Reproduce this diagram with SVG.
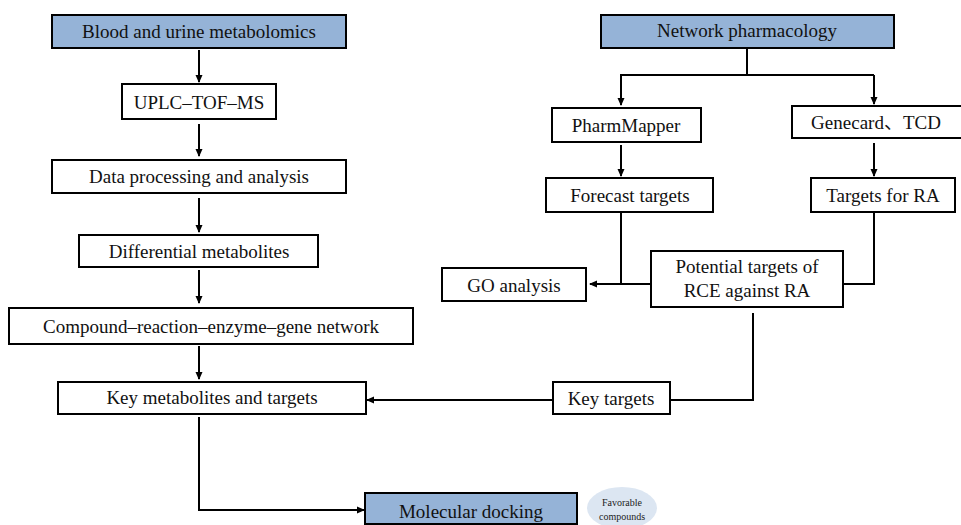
<svg xmlns="http://www.w3.org/2000/svg" width="961" height="525" viewBox="0 0 961 525">
<style>
.box{fill:#ffffff;stroke:#000000;stroke-width:2}
.hbox{fill:#95b3d7;stroke:#000000;stroke-width:2}
.t{font-size:19px;fill:#111111;text-anchor:middle}
.c{fill:none;stroke:#000000;stroke-width:2}
.s{font-size:10px;fill:#222222;text-anchor:middle}
</style>
<defs>
<marker id="ah" markerWidth="8" markerHeight="8" refX="7" refY="4" orient="auto" markerUnits="userSpaceOnUse">
<path d="M0,0.5 L8,4 L0,7.5 Z" fill="#000000"/>
</marker>
</defs>
<rect width="961" height="525" fill="#ffffff"/>
<g id="connectors">
<line class="c" x1="199" y1="50" x2="199" y2="82" marker-end="url(#ah)"/>
<line class="c" x1="199" y1="124" x2="199" y2="156" marker-end="url(#ah)"/>
<line class="c" x1="199" y1="198" x2="199" y2="232" marker-end="url(#ah)"/>
<line class="c" x1="199" y1="270" x2="199" y2="303" marker-end="url(#ah)"/>
<line class="c" x1="199" y1="346" x2="199" y2="379" marker-end="url(#ah)"/>
<path class="c" d="M747,49 V75"/>
<path class="c" d="M621,105 V75 H874"/>
<line class="c" x1="621" y1="76" x2="621" y2="105" marker-end="url(#ah)"/>
<path class="c" d="M874,75 V104" marker-end="url(#ah)"/>
<line class="c" x1="621" y1="145" x2="621" y2="176" marker-end="url(#ah)"/>
<line class="c" x1="874" y1="143" x2="874" y2="176" marker-end="url(#ah)"/>
<path class="c" d="M621,213 V284"/>
<path class="c" d="M651,284 H590" marker-end="url(#ah)"/>
<path class="c" d="M874,213 V284 H843"/>
<path class="c" d="M753,313 V400 H670"/>
<path class="c" d="M553,400 H367" marker-end="url(#ah)"/>
<path class="c" d="M199,417 V510 H364" marker-end="url(#ah)"/>
</g>
<g font-family="Tinos, 'Liberation Serif', 'Times New Roman', 'DejaVu Serif', 'Noto Sans CJK SC', serif">
<g id="blood"><rect class="hbox" x="52" y="15" width="294" height="33"/><text class="t" x="199" y="38">Blood and urine metabolomics</text></g>
<g id="uplc"><rect class="box" x="122" y="84" width="154" height="35"/><text class="t" x="199" y="109">UPLC–TOF–MS</text></g>
<g id="data"><rect class="box" x="52" y="160" width="294" height="33"/><text class="t" x="199" y="183">Data processing and analysis</text></g>
<g id="diff"><rect class="box" x="79" y="235" width="239" height="32"/><text class="t" x="199" y="258">Differential metabolites</text></g>
<g id="compound"><rect class="box" x="9" y="308" width="404" height="36"/><text class="t" x="211" y="333">Compound–reaction–enzyme–gene network</text></g>
<g id="keymet"><rect class="box" x="58" y="382" width="308" height="32"/><text class="t" x="212" y="404">Key metabolites and targets</text></g>
<g id="network"><rect class="hbox" x="601" y="15" width="293" height="33"/><text class="t" x="747" y="37">Network pharmacology</text></g>
<g id="pharm"><rect class="box" x="552" y="108" width="149" height="34"/><text class="t" x="626" y="132">PharmMapper</text></g>
<g id="genecard"><rect class="box" x="792" y="106" width="172" height="32"/><text class="t" x="876" y="129">Genecard、TCD</text></g>
<g id="forecast"><rect class="box" x="546" y="178" width="167" height="34"/><text class="t" x="630" y="202">Forecast targets</text></g>
<g id="targetsra"><rect class="box" x="811" y="178" width="144" height="34"/><text class="t" x="883" y="202">Targets for RA</text></g>
<g id="potential"><rect class="box" x="651" y="251" width="192" height="56"/><text class="t" x="747" y="273">Potential targets of</text><text class="t" x="747" y="297">RCE against RA</text></g>
<g id="go"><rect class="box" x="442" y="268" width="144" height="33"/><text class="t" x="514" y="292">GO analysis</text></g>
<g id="keytargets"><rect class="box" x="553" y="382" width="117" height="32"/><text class="t" x="611" y="405">Key targets</text></g>
<g id="docking"><rect class="hbox" x="365" y="493" width="212" height="31"/><text class="t" x="471" y="518">Molecular docking</text></g>
<g id="favorable"><ellipse cx="622" cy="508" rx="35" ry="21" fill="#dce6f2"/><text class="s" x="622" y="506">Favorable</text><text class="s" x="622" y="520">compounds</text></g>
</g>
</svg>
